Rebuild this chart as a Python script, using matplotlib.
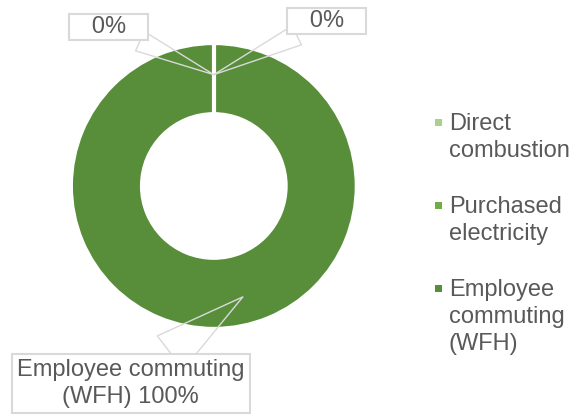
import matplotlib
matplotlib.use("Agg")
from matplotlib import pyplot as plt
from matplotlib.patches import Rectangle
import numpy as np

# data
categories = ["Direct\ncombustion", "Purchased\nelectricity", "Employee\ncommuting\n(WFH)"]
values = [0, 0, 100]
colors = ["#A9D18E", "#70AD47", "#588E3A"]
label_texts = ["0%", "0%", "Employee commuting\n(WFH) 100%"]

plt.rcParams['font.family'] = ['Liberation Sans', 'DejaVu Sans']
txt = "#595959"
gray = "#D9D9D9"
fs = 17

fig = plt.figure(figsize=(5.74, 4.17), dpi=100)
ax = fig.add_axes([0.127, 0.216, 0.491, 0.676])

wedges, _ = ax.pie(values, colors=colors, startangle=90, counterclock=False,
                   radius=1.012,
                   wedgeprops=dict(width=0.50, edgecolor="white", linewidth=2.5))
ax.set_xlim(-1, 1)
ax.set_ylim(-1, 1)
ax.set_aspect("equal")

# white separator where the full ring starts (zero slices sit there)
w = wedges[-1]
th = np.deg2rad(w.theta2)
rr = np.array([w.r - w.width, w.r + 0.02])
ax.plot(rr * np.cos(th), rr * np.sin(th), color="white", lw=3, solid_capstyle="butt")

# callout labels
box = dict(boxstyle="square,pad=0.1", fc="white", ec=gray, lw=1.5)
arrow = dict(arrowstyle="wedge,tail_width=0.9", fc="none", ec=gray, lw=1.0,
             shrinkA=0, shrinkB=0)
ax.annotate("   " + label_texts[0] + "   ", xy=(0, 0.79), xytext=(-0.745, 1.128),
            ha="center", va="center", fontsize=fs, color=txt,
            bbox=box, arrowprops=arrow, annotation_clip=False)
ax.annotate("   " + label_texts[1] + "   ", xy=(0, 0.79), xytext=(0.80, 1.17),
            ha="center", va="center", fontsize=fs, color=txt,
            bbox=box, arrowprops=arrow, annotation_clip=False)
ax.annotate(label_texts[2], xy=(0.206, -0.787), xytext=(-0.59, -1.40),
            ha="center", va="center", fontsize=fs, color=txt, linespacing=1.3,
            bbox=dict(boxstyle="square,pad=0.22", fc="white", ec=gray, lw=1.5),
            arrowprops=dict(arrowstyle="wedge,tail_width=1.8", fc="none",
                            ec=gray, lw=1.0, shrinkA=0, shrinkB=0),
            annotation_clip=False)

# legend: marker sits on the first line of each entry
W, H = 574.0, 417.0
y = 113
for cat, col in zip(categories, colors):
    fig.text(449 / W, 1 - y / H, cat, ha="left", va="top", fontsize=fs,
             color=txt, linespacing=1.3)
    fig.patches.append(Rectangle((435 / W, 1 - (y + 12.5) / H), 7 / W, 7 / H,
                                 transform=fig.transFigure, fc=col, ec="none"))
    y += cat.count("\n") * 27 + 27 + 29

fig.savefig("out.png", dpi=100)
